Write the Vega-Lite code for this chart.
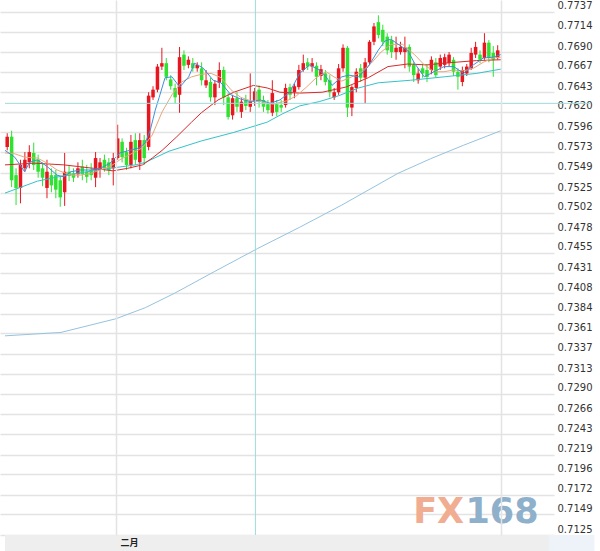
{
  "$schema": "https://vega.github.io/schema/vega-lite/v6.json",
  "width": 554,
  "height": 535,
  "autosize": {"type": "none"},
  "padding": {"left": 0, "top": 0, "right": 46, "bottom": 16},
  "background": "white",
  "config": {
    "view": {"stroke": null},
    "axis": {"labelOverlap": false, "labelFlush": false, "title": null, "grid": true, "gridColor": "#e3e3e3", "gridWidth": 1.5, "ticks": false, "domain": false},
    "axisX": {"tickSize": 0,
      "labelFont": "Noto Sans CJK SC", "labelFontSize": 9, "labelFontWeight": "bold",
      "labelColor": "#222222", "labelAlign": "left", "labelOffset": 4, "labelBaseline": "top", "labelPadding": 3},
    "axisY": {"labelFont": "DejaVu Sans", "labelFontSize": 10, "labelColor": "#333333",
      "labelAlign": "left", "labelBaseline": "middle", "labelOffset": -6, "labelPadding": 3}
  },
  "datasets": {
    "candles": [
      {"t":0.5,"open":0.7579,"high":0.7595,"low":0.7575,"close":0.7591},
      {"t":1.5,"open":0.7591,"high":0.7598,"low":0.7532,"close":0.7540},
      {"t":2.5,"open":0.7546,"high":0.7554,"low":0.7511,"close":0.7531},
      {"t":3.5,"open":0.7531,"high":0.7564,"low":0.7513,"close":0.7558},
      {"t":4.5,"open":0.7554,"high":0.7573,"low":0.7550,"close":0.7564},
      {"t":5.5,"open":0.7561,"high":0.7581,"low":0.7554,"close":0.7573},
      {"t":6.5,"open":0.7572,"high":0.7584,"low":0.7552,"close":0.7558},
      {"t":7.5,"open":0.7564,"high":0.7570,"low":0.7543,"close":0.7550},
      {"t":8.5,"open":0.7554,"high":0.7561,"low":0.7533,"close":0.7543},
      {"t":9.5,"open":0.7531,"high":0.7564,"low":0.7519,"close":0.7550},
      {"t":10.5,"open":0.7546,"high":0.7554,"low":0.7526,"close":0.7534},
      {"t":11.5,"open":0.7546,"high":0.7552,"low":0.7519,"close":0.7529},
      {"t":12.5,"open":0.7540,"high":0.7545,"low":0.7509,"close":0.7520},
      {"t":13.5,"open":0.7526,"high":0.7572,"low":0.7510,"close":0.7550},
      {"t":14.5,"open":0.7550,"high":0.7557,"low":0.7539,"close":0.7545},
      {"t":15.5,"open":0.7548,"high":0.7554,"low":0.7538,"close":0.7543},
      {"t":16.5,"open":0.7547,"high":0.7561,"low":0.7543,"close":0.7554},
      {"t":17.5,"open":0.7556,"high":0.7564,"low":0.7540,"close":0.7547},
      {"t":18.5,"open":0.7550,"high":0.7558,"low":0.7537,"close":0.7544},
      {"t":19.5,"open":0.7552,"high":0.7560,"low":0.7540,"close":0.7546},
      {"t":20.5,"open":0.7543,"high":0.7573,"low":0.7532,"close":0.7566},
      {"t":21.5,"open":0.7552,"high":0.7566,"low":0.7543,"close":0.7561},
      {"t":22.5,"open":0.7564,"high":0.7570,"low":0.7550,"close":0.7554},
      {"t":23.5,"open":0.7561,"high":0.7566,"low":0.7546,"close":0.7552},
      {"t":24.5,"open":0.7554,"high":0.7572,"low":0.7534,"close":0.7566},
      {"t":25.5,"open":0.7566,"high":0.7605,"low":0.7564,"close":0.7589},
      {"t":26.5,"open":0.7585,"high":0.7589,"low":0.7561,"close":0.7567},
      {"t":27.5,"open":0.7573,"high":0.7578,"low":0.7552,"close":0.7558},
      {"t":28.5,"open":0.7558,"high":0.7593,"low":0.7554,"close":0.7585},
      {"t":29.5,"open":0.7587,"high":0.7595,"low":0.7558,"close":0.7564},
      {"t":30.5,"open":0.7561,"high":0.7595,"low":0.7552,"close":0.7587},
      {"t":31.5,"open":0.7587,"high":0.7593,"low":0.7558,"close":0.7566},
      {"t":32.5,"open":0.7579,"high":0.7643,"low":0.7575,"close":0.7639},
      {"t":33.5,"open":0.7637,"high":0.7650,"low":0.7634,"close":0.7646},
      {"t":34.5,"open":0.7646,"high":0.7676,"low":0.7643,"close":0.7673},
      {"t":35.5,"open":0.7673,"high":0.7695,"low":0.7669,"close":0.7677},
      {"t":36.5,"open":0.7677,"high":0.7683,"low":0.7657,"close":0.7661},
      {"t":37.5,"open":0.7658,"high":0.7663,"low":0.7646,"close":0.7650},
      {"t":38.5,"open":0.7648,"high":0.7653,"low":0.7630,"close":0.7637},
      {"t":39.5,"open":0.7640,"high":0.7696,"low":0.7619,"close":0.7684},
      {"t":40.5,"open":0.7687,"high":0.7692,"low":0.7669,"close":0.7674},
      {"t":41.5,"open":0.7675,"high":0.7685,"low":0.7671,"close":0.7681},
      {"t":42.5,"open":0.7677,"high":0.7683,"low":0.7667,"close":0.7671},
      {"t":43.5,"open":0.7671,"high":0.7678,"low":0.7667,"close":0.7675},
      {"t":44.5,"open":0.7671,"high":0.7678,"low":0.7651,"close":0.7657},
      {"t":45.5,"open":0.7651,"high":0.7669,"low":0.7648,"close":0.7657},
      {"t":46.5,"open":0.7655,"high":0.7660,"low":0.7632,"close":0.7637},
      {"t":47.5,"open":0.7637,"high":0.7657,"low":0.7628,"close":0.7653},
      {"t":48.5,"open":0.7654,"high":0.7678,"low":0.7648,"close":0.7669},
      {"t":49.5,"open":0.7669,"high":0.7673,"low":0.7628,"close":0.7637},
      {"t":50.5,"open":0.7637,"high":0.7642,"low":0.7611,"close":0.7614},
      {"t":51.5,"open":0.7616,"high":0.7640,"low":0.7611,"close":0.7636},
      {"t":52.5,"open":0.7636,"high":0.7643,"low":0.7620,"close":0.7626},
      {"t":53.5,"open":0.7620,"high":0.7636,"low":0.7613,"close":0.7632},
      {"t":54.5,"open":0.7634,"high":0.7640,"low":0.7622,"close":0.7627},
      {"t":55.5,"open":0.7626,"high":0.7665,"low":0.7620,"close":0.7632},
      {"t":56.5,"open":0.7632,"high":0.7648,"low":0.7627,"close":0.7644},
      {"t":57.5,"open":0.7646,"high":0.7651,"low":0.7625,"close":0.7632},
      {"t":58.5,"open":0.7634,"high":0.7639,"low":0.7620,"close":0.7626},
      {"t":59.5,"open":0.7629,"high":0.7634,"low":0.7618,"close":0.7622},
      {"t":60.5,"open":0.7619,"high":0.7657,"low":0.7615,"close":0.7642},
      {"t":61.5,"open":0.7629,"high":0.7634,"low":0.7615,"close":0.7620},
      {"t":62.5,"open":0.7628,"high":0.7634,"low":0.7620,"close":0.7625},
      {"t":63.5,"open":0.7628,"high":0.7653,"low":0.7625,"close":0.7648},
      {"t":64.5,"open":0.7649,"high":0.7653,"low":0.7634,"close":0.7640},
      {"t":65.5,"open":0.7643,"high":0.7653,"low":0.7636,"close":0.7650},
      {"t":66.5,"open":0.7649,"high":0.7675,"low":0.7646,"close":0.7669},
      {"t":67.5,"open":0.7669,"high":0.7687,"low":0.7667,"close":0.7677},
      {"t":68.5,"open":0.7678,"high":0.7683,"low":0.7669,"close":0.7673},
      {"t":69.5,"open":0.7673,"high":0.7683,"low":0.7667,"close":0.7677},
      {"t":70.5,"open":0.7674,"high":0.7678,"low":0.7651,"close":0.7661},
      {"t":71.5,"open":0.7662,"high":0.7675,"low":0.7657,"close":0.7670},
      {"t":72.5,"open":0.7665,"high":0.7669,"low":0.7651,"close":0.7655},
      {"t":73.5,"open":0.7657,"high":0.7663,"low":0.7637,"close":0.7643},
      {"t":74.5,"open":0.7637,"high":0.7648,"low":0.7634,"close":0.7643},
      {"t":75.5,"open":0.7643,"high":0.7676,"low":0.7640,"close":0.7671},
      {"t":76.5,"open":0.7671,"high":0.7699,"low":0.7667,"close":0.7695},
      {"t":77.5,"open":0.7695,"high":0.7697,"low":0.7614,"close":0.7625},
      {"t":78.5,"open":0.7625,"high":0.7651,"low":0.7615,"close":0.7649},
      {"t":79.5,"open":0.7648,"high":0.7671,"low":0.7643,"close":0.7667},
      {"t":80.5,"open":0.7671,"high":0.7676,"low":0.7655,"close":0.7660},
      {"t":81.5,"open":0.7660,"high":0.7683,"low":0.7630,"close":0.7678},
      {"t":82.5,"open":0.7678,"high":0.7704,"low":0.7675,"close":0.7702},
      {"t":83.5,"open":0.7702,"high":0.7724,"low":0.7698,"close":0.7720},
      {"t":84.5,"open":0.7725,"high":0.7733,"low":0.7706,"close":0.7710},
      {"t":85.5,"open":0.7716,"high":0.7722,"low":0.7697,"close":0.7702},
      {"t":86.5,"open":0.7708,"high":0.7712,"low":0.7687,"close":0.7692},
      {"t":87.5,"open":0.7704,"high":0.7709,"low":0.7683,"close":0.7690},
      {"t":88.5,"open":0.7690,"high":0.7708,"low":0.7681,"close":0.7695},
      {"t":89.5,"open":0.7690,"high":0.7702,"low":0.7687,"close":0.7696},
      {"t":90.5,"open":0.7690,"high":0.7708,"low":0.7671,"close":0.7695},
      {"t":91.5,"open":0.7696,"high":0.7699,"low":0.7667,"close":0.7673},
      {"t":92.5,"open":0.7675,"high":0.7678,"low":0.7655,"close":0.7663},
      {"t":93.5,"open":0.7657,"high":0.7671,"low":0.7653,"close":0.7665},
      {"t":94.5,"open":0.7671,"high":0.7676,"low":0.7660,"close":0.7665},
      {"t":95.5,"open":0.7669,"high":0.7676,"low":0.7655,"close":0.7661},
      {"t":96.5,"open":0.7669,"high":0.7685,"low":0.7664,"close":0.7681},
      {"t":97.5,"open":0.7678,"high":0.7683,"low":0.7660,"close":0.7663},
      {"t":98.5,"open":0.7673,"high":0.7687,"low":0.7669,"close":0.7683},
      {"t":99.5,"open":0.7675,"high":0.7688,"low":0.7671,"close":0.7684},
      {"t":100.5,"open":0.7677,"high":0.7690,"low":0.7673,"close":0.7687},
      {"t":101.5,"open":0.7681,"high":0.7684,"low":0.7662,"close":0.7667},
      {"t":102.5,"open":0.7667,"high":0.7671,"low":0.7646,"close":0.7661},
      {"t":103.5,"open":0.7655,"high":0.7673,"low":0.7650,"close":0.7669},
      {"t":104.5,"open":0.7665,"high":0.7676,"low":0.7662,"close":0.7673},
      {"t":105.5,"open":0.7671,"high":0.7695,"low":0.7669,"close":0.7689},
      {"t":106.5,"open":0.7687,"high":0.7702,"low":0.7683,"close":0.7696},
      {"t":107.5,"open":0.7687,"high":0.7692,"low":0.7677,"close":0.7681},
      {"t":108.5,"open":0.7683,"high":0.7712,"low":0.7681,"close":0.7701},
      {"t":109.5,"open":0.7701,"high":0.7704,"low":0.7678,"close":0.7683},
      {"t":110.5,"open":0.7689,"high":0.7697,"low":0.7661,"close":0.7681},
      {"t":111.5,"open":0.7683,"high":0.7698,"low":0.7681,"close":0.7692}
    ],
    "ma": [
      {"series":"MA200","t":0,"price":0.7358},
      {"series":"MA200","t":12.67,"price":0.7362},
      {"series":"MA200","t":25.11,"price":0.7378},
      {"series":"MA200","t":31.78,"price":0.7391},
      {"series":"MA200","t":38.44,"price":0.7408},
      {"series":"MA200","t":47.33,"price":0.7433},
      {"series":"MA200","t":57.11,"price":0.7460},
      {"series":"MA200","t":66.67,"price":0.7485},
      {"series":"MA200","t":76.22,"price":0.7511},
      {"series":"MA200","t":88.89,"price":0.7548},
      {"series":"MA200","t":96.22,"price":0.7565},
      {"series":"MA200","t":103.78,"price":0.7581},
      {"series":"MA200","t":112.22,"price":0.7598},
      {"series":"MA60","t":0,"price":0.7525},
      {"series":"MA60","t":7.33,"price":0.7539},
      {"series":"MA60","t":14.89,"price":0.7547},
      {"series":"MA60","t":22.22,"price":0.7553},
      {"series":"MA60","t":29.56,"price":0.7558},
      {"series":"MA60","t":31.78,"price":0.7561},
      {"series":"MA60","t":37.11,"price":0.7574},
      {"series":"MA60","t":44.44,"price":0.7586},
      {"series":"MA60","t":51.78,"price":0.7596},
      {"series":"MA60","t":59.33,"price":0.7608},
      {"series":"MA60","t":62.89,"price":0.7618},
      {"series":"MA60","t":66.67,"price":0.7627},
      {"series":"MA60","t":71.11,"price":0.7632},
      {"series":"MA60","t":75.56,"price":0.7639},
      {"series":"MA60","t":80,"price":0.7648},
      {"series":"MA60","t":84.44,"price":0.7654},
      {"series":"MA60","t":91.78,"price":0.7657},
      {"series":"MA60","t":99.33,"price":0.7661},
      {"series":"MA60","t":106.67,"price":0.7665},
      {"series":"MA60","t":112.22,"price":0.7670},
      {"series":"MA20","t":0,"price":0.7558},
      {"series":"MA20","t":6.67,"price":0.7560},
      {"series":"MA20","t":13.33,"price":0.7558},
      {"series":"MA20","t":20,"price":0.7554},
      {"series":"MA20","t":24.44,"price":0.7551},
      {"series":"MA20","t":27.78,"price":0.7554},
      {"series":"MA20","t":31.11,"price":0.7558},
      {"series":"MA20","t":33.33,"price":0.7566},
      {"series":"MA20","t":35.56,"price":0.7575},
      {"series":"MA20","t":38.89,"price":0.7591},
      {"series":"MA20","t":42.22,"price":0.7608},
      {"series":"MA20","t":44.44,"price":0.7619},
      {"series":"MA20","t":48.22,"price":0.7634},
      {"series":"MA20","t":51.78,"price":0.7643},
      {"series":"MA20","t":56.22,"price":0.7651},
      {"series":"MA20","t":59.33,"price":0.7648},
      {"series":"MA20","t":62.22,"price":0.7643},
      {"series":"MA20","t":66.67,"price":0.7642},
      {"series":"MA20","t":71.78,"price":0.7643},
      {"series":"MA20","t":77.11,"price":0.7649},
      {"series":"MA20","t":82.22,"price":0.7660},
      {"series":"MA20","t":86.67,"price":0.7673},
      {"series":"MA20","t":91.11,"price":0.7676},
      {"series":"MA20","t":95.56,"price":0.7675},
      {"series":"MA20","t":99.33,"price":0.7677},
      {"series":"MA20","t":106.67,"price":0.7680},
      {"series":"MA20","t":112.22,"price":0.7681},
      {"series":"MA10","t":0,"price":0.7572},
      {"series":"MA10","t":2.22,"price":0.7571},
      {"series":"MA10","t":4.44,"price":0.7567},
      {"series":"MA10","t":7.33,"price":0.7566},
      {"series":"MA10","t":9.56,"price":0.7560},
      {"series":"MA10","t":11.78,"price":0.7552},
      {"series":"MA10","t":14.89,"price":0.7546},
      {"series":"MA10","t":17.11,"price":0.7546},
      {"series":"MA10","t":19.33,"price":0.7548},
      {"series":"MA10","t":21.56,"price":0.7552},
      {"series":"MA10","t":23.78,"price":0.7556},
      {"series":"MA10","t":26,"price":0.7564},
      {"series":"MA10","t":28.22,"price":0.7570},
      {"series":"MA10","t":31.11,"price":0.7578},
      {"series":"MA10","t":33.33,"price":0.7593},
      {"series":"MA10","t":35.56,"price":0.7620},
      {"series":"MA10","t":37.78,"price":0.7640},
      {"series":"MA10","t":40,"price":0.7655},
      {"series":"MA10","t":42.22,"price":0.7661},
      {"series":"MA10","t":44.44,"price":0.7664},
      {"series":"MA10","t":46.67,"price":0.7665},
      {"series":"MA10","t":48.89,"price":0.7660},
      {"series":"MA10","t":51.11,"price":0.7646},
      {"series":"MA10","t":53.33,"price":0.7637},
      {"series":"MA10","t":55.56,"price":0.7633},
      {"series":"MA10","t":57.78,"price":0.7632},
      {"series":"MA10","t":60.67,"price":0.7629},
      {"series":"MA10","t":63.78,"price":0.7633},
      {"series":"MA10","t":66,"price":0.7639},
      {"series":"MA10","t":68.22,"price":0.7649},
      {"series":"MA10","t":70.44,"price":0.7660},
      {"series":"MA10","t":72.67,"price":0.7667},
      {"series":"MA10","t":74.44,"price":0.7661},
      {"series":"MA10","t":76.22,"price":0.7656},
      {"series":"MA10","t":78.44,"price":0.7661},
      {"series":"MA10","t":80.67,"price":0.7667},
      {"series":"MA10","t":82.89,"price":0.7677},
      {"series":"MA10","t":85.11,"price":0.7690},
      {"series":"MA10","t":87.33,"price":0.7699},
      {"series":"MA10","t":90,"price":0.7699},
      {"series":"MA10","t":92.67,"price":0.7687},
      {"series":"MA10","t":94.89,"price":0.7675},
      {"series":"MA10","t":97.11,"price":0.7667},
      {"series":"MA10","t":99.33,"price":0.7667},
      {"series":"MA10","t":101.56,"price":0.7669},
      {"series":"MA10","t":103.78,"price":0.7668},
      {"series":"MA10","t":106,"price":0.7671},
      {"series":"MA10","t":108.22,"price":0.7678},
      {"series":"MA10","t":110.44,"price":0.7683},
      {"series":"MA10","t":112.22,"price":0.7684},
      {"series":"MA5","t":0,"price":0.7575},
      {"series":"MA5","t":2.22,"price":0.7567},
      {"series":"MA5","t":4.44,"price":0.7550},
      {"series":"MA5","t":5.56,"price":0.7561},
      {"series":"MA5","t":7.33,"price":0.7564},
      {"series":"MA5","t":9.56,"price":0.7556},
      {"series":"MA5","t":11.78,"price":0.7546},
      {"series":"MA5","t":13.33,"price":0.7544},
      {"series":"MA5","t":14.89,"price":0.7550},
      {"series":"MA5","t":17.11,"price":0.7552},
      {"series":"MA5","t":19.33,"price":0.7552},
      {"series":"MA5","t":21.56,"price":0.7554},
      {"series":"MA5","t":23.78,"price":0.7560},
      {"series":"MA5","t":26,"price":0.7572},
      {"series":"MA5","t":28.22,"price":0.7575},
      {"series":"MA5","t":30.44,"price":0.7578},
      {"series":"MA5","t":31.78,"price":0.7584},
      {"series":"MA5","t":32.89,"price":0.7599},
      {"series":"MA5","t":34,"price":0.7622},
      {"series":"MA5","t":34.89,"price":0.7637},
      {"series":"MA5","t":36.22,"price":0.7660},
      {"series":"MA5","t":37.78,"price":0.7661},
      {"series":"MA5","t":39.56,"price":0.7649},
      {"series":"MA5","t":41.56,"price":0.7661},
      {"series":"MA5","t":42.89,"price":0.7677},
      {"series":"MA5","t":44.89,"price":0.7671},
      {"series":"MA5","t":47.11,"price":0.7657},
      {"series":"MA5","t":48.89,"price":0.7654},
      {"series":"MA5","t":51.11,"price":0.7640},
      {"series":"MA5","t":53.33,"price":0.7635},
      {"series":"MA5","t":55.56,"price":0.7632},
      {"series":"MA5","t":57.78,"price":0.7634},
      {"series":"MA5","t":60,"price":0.7630},
      {"series":"MA5","t":62.22,"price":0.7634},
      {"series":"MA5","t":64.44,"price":0.7643},
      {"series":"MA5","t":66.67,"price":0.7665},
      {"series":"MA5","t":68.89,"price":0.7675},
      {"series":"MA5","t":71.11,"price":0.7669},
      {"series":"MA5","t":72.67,"price":0.7661},
      {"series":"MA5","t":74,"price":0.7651},
      {"series":"MA5","t":76.22,"price":0.7661},
      {"series":"MA5","t":77.78,"price":0.7663},
      {"series":"MA5","t":80,"price":0.7661},
      {"series":"MA5","t":82.22,"price":0.7673},
      {"series":"MA5","t":84.44,"price":0.7692},
      {"series":"MA5","t":86,"price":0.7703},
      {"series":"MA5","t":87.33,"price":0.7705},
      {"series":"MA5","t":89.56,"price":0.7697},
      {"series":"MA5","t":91.11,"price":0.7692},
      {"series":"MA5","t":92.67,"price":0.7677},
      {"series":"MA5","t":94.89,"price":0.7661},
      {"series":"MA5","t":97.11,"price":0.7667},
      {"series":"MA5","t":99.33,"price":0.7673},
      {"series":"MA5","t":101.56,"price":0.7673},
      {"series":"MA5","t":103.78,"price":0.7665},
      {"series":"MA5","t":106,"price":0.7675},
      {"series":"MA5","t":108.22,"price":0.7683},
      {"series":"MA5","t":110.44,"price":0.7684},
      {"series":"MA5","t":112.22,"price":0.7687}
    ]
  },
  "layer": [
    {
      "data": {"values": [{"band": "time axis"}]},
      "mark": {"type": "rect", "color": "#eeeeee", "clip": false},
      "encoding": {
        "x": {"datum": 0, "type": "quantitative",
          "scale": {"domain": [0, 123.11], "nice": false, "zero": false},
          "axis": {"orient": "bottom", "zindex": 1, "tickCount": 10, "values": [25.11, 112.2], "labelExpr": "datum.value < 50 ? '二月' : ''"}},
        "x2": {"datum": 123.11},
        "y": {"datum": 0.7125, "type": "quantitative",
          "scale": {"domain": [0.7125, 0.77509], "nice": false, "zero": false},
          "axis": {
            "orient": "right", "zindex": 0, "tickCount": 40,
            "values": [0.7125, 0.7149, 0.7172, 0.7196, 0.7219, 0.7243, 0.7266, 0.7290, 0.7313, 0.7337, 0.7361, 0.7384, 0.7408, 0.7431, 0.7455, 0.7478, 0.7502, 0.7525, 0.7549, 0.7573, 0.7596, 0.7620, 0.7643, 0.7667, 0.7690, 0.7714, 0.7737],
            "format": ".4f"
          }},
        "y2": {"datum": 0.71063}
      }
    },
    {
      "data": {"values": [{"band": "corner"}]},
      "mark": {"type": "rect", "color": "#eef3fa", "clip": false},
      "encoding": {
        "x": {"datum": 123.11, "type": "quantitative"},
        "x2": {"datum": 133.4},
        "y": {"datum": 0.7125, "type": "quantitative"},
        "y2": {"datum": 0.71063}
      }
    },
    {
      "data": {"name": "candles"},
      "mark": {"type": "rule", "strokeWidth": 1},
      "encoding": {
        "x": {"field": "t", "type": "quantitative"},
        "y": {"field": "low", "type": "quantitative"},
        "y2": {"field": "high"},
        "color": {
          "condition": {"test": "datum.close > datum.open", "value": "#e8161e"},
          "value": "#2fe22f"
        }
      }
    },
    {
      "data": {"name": "candles"},
      "mark": {"type": "bar", "size": 3.5},
      "encoding": {
        "x": {"field": "t", "type": "quantitative"},
        "y": {"field": "open", "type": "quantitative"},
        "y2": {"field": "close"},
        "color": {
          "condition": {"test": "datum.close > datum.open", "value": "#e8161e"},
          "value": "#2fe22f"
        }
      }
    },
    {
      "data": {"name": "ma"},
      "mark": {"type": "line", "strokeWidth": 1},
      "encoding": {
        "x": {"field": "t", "type": "quantitative"},
        "y": {"field": "price", "type": "quantitative"},
        "color": {
          "field": "series", "type": "nominal", "legend": null,
          "scale": {
            "domain": ["MA200", "MA60", "MA20", "MA10", "MA5"],
            "range": ["#95c3df", "#33c3c9", "#d82a2a", "#e8a67c", "#3d8fe0"]
          }
        }
      }
    },
    {
      "data": {"values": [{"crosshair": "vertical"}]},
      "mark": {"type": "rule", "stroke": "#9edada", "strokeWidth": 1, "clip": false},
      "encoding": {
        "x": {"datum": 56.67, "type": "quantitative"},
        "y": {"datum": 0.7125, "type": "quantitative"},
        "y2": {"datum": 0.77509}
      }
    },
    {
      "data": {"values": [{"crosshair": "horizontal"}]},
      "mark": {"type": "rule", "stroke": "#9edada", "strokeWidth": 1, "clip": false},
      "encoding": {
        "y": {"datum": 0.7630, "type": "quantitative"},
        "x": {"datum": 0, "type": "quantitative"},
        "x2": {"datum": 132.4}
      }
    },
    {
      "data": {"values": [{"label": "FX"}]},
      "mark": {"type": "text", "align": "right", "baseline": "alphabetic", "font": "DejaVu Sans", "fontSize": 35, "fontWeight": "bold", "color": "#f0ad92"},
      "encoding": {
        "text": {"field": "label"},
        "x": {"datum": 103.9, "type": "quantitative"},
        "y": {"datum": 0.7139, "type": "quantitative"}
      }
    },
    {
      "data": {"values": [{"label": "168"}]},
      "mark": {"type": "text", "align": "left", "baseline": "alphabetic", "font": "DejaVu Sans", "fontSize": 35, "fontWeight": "bold", "color": "#8fb0ca"},
      "encoding": {
        "text": {"field": "label"},
        "x": {"datum": 104.2, "type": "quantitative"},
        "y": {"datum": 0.7139, "type": "quantitative"}
      }
    }
  ]
}
